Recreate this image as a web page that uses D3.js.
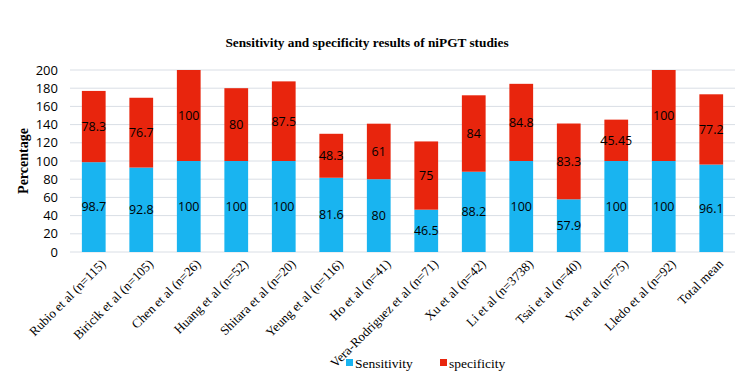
<!DOCTYPE html>
<html>
<head>
<meta charset="utf-8">
<script src="https://cdn.jsdelivr.net/npm/d3@7"></script>
<style>
  body { margin: 0; background: #fff; }
  svg { display: block; }
</style>
</head>
<body>
<svg id="chart"></svg>
<script>
// data
const studies = ["Rubio et al (n=115)", "Biricik et al (n=105)", "Chen et al (n=26)", "Huang et al (n=52)",
  "Shitara et al (n=20)", "Yeung et al (n=116)", "Ho et al (n=41)", "Vera-Rodriguez et al (n=71)",
  "Xu et al (n=42)", "Li et al (n=3738)", "Tsai et al (n=40)", "Yin et al (n=75)", "Lledo et al (n=92)", "Total mean"];
const sensitivity = [98.7, 92.8, 100, 100, 100, 81.6, 80, 46.5, 88.2, 100, 57.9, 100, 100, 96.1];
const specificity = [78.3, 76.7, 100, 80, 87.5, 48.3, 61, 75, 84, 84.8, 83.3, 45.45, 100, 77.2];
const yTicks = [0, 20, 40, 60, 80, 100, 120, 140, 160, 180, 200];
const seriesNames = ["Sensitivity", "specificity"];
const colors = ["#19b4f0", "#e8250d"];

const width = 753, height = 389;
const margin = { top: 70, right: 18, bottom: 137, left: 70 };
const innerW = width - margin.left - margin.right;
const innerH = height - margin.top - margin.bottom;

const svg = d3.select("#chart").attr("width", width).attr("height", height);

svg.append("text")
  .attr("x", 367).attr("y", 47)
  .attr("text-anchor", "middle")
  .style("font-family", "'Liberation Serif', serif")
  .style("font-weight", "bold").style("font-size", "13.3px")
  .text("Sensitivity and specificity results of niPGT studies");

const g = svg.append("g").attr("transform", `translate(${margin.left},${margin.top})`);

const x = d3.scaleBand().domain(studies).range([0, innerW]).paddingInner(0.5).paddingOuter(0.25);
const y = d3.scaleLinear().domain([0, 200]).range([innerH, 0]);

// gridlines
g.selectAll(".grid").data(yTicks).enter().append("line")
  .attr("x1", 0).attr("x2", innerW)
  .attr("y1", d => y(d)).attr("y2", d => y(d))
  .attr("stroke", "#d9dee5").attr("stroke-width", 1);

// y axis
const yaxis = g.append("g").call(d3.axisLeft(y).tickValues(yTicks).tickSize(0).tickPadding(12));
yaxis.select(".domain").remove();
yaxis.selectAll("text")
  .style("font-family", "'Open Sans', sans-serif").style("font-size", "13px").attr("fill", "#000");

svg.append("text")
  .attr("transform", `translate(28,${margin.top + innerH / 2}) rotate(-90)`)
  .attr("text-anchor", "middle")
  .style("font-family", "'Liberation Serif', serif")
  .style("font-weight", "bold").style("font-size", "14px")
  .text("Percentage");

// stacked data
const rows = studies.map((s, i) => ({ study: s, Sensitivity: sensitivity[i], specificity: specificity[i] }));
const stack = d3.stack().keys(seriesNames)(rows);

const layers = g.selectAll(".layer").data(stack).enter().append("g")
  .attr("fill", (d, i) => colors[i]);

layers.selectAll("rect").data(d => d).enter().append("rect")
  .attr("x", d => x(d.data.study))
  .attr("y", d => y(d[1]))
  .attr("width", x.bandwidth())
  .attr("height", d => y(d[0]) - y(d[1]));

layers.selectAll("text").data(d => d).enter().append("text")
  .attr("x", d => x(d.data.study) + x.bandwidth() / 2)
  .attr("y", d => (y(d[0]) + y(d[1])) / 2)
  .attr("dy", "0.35em")
  .attr("text-anchor", "middle")
  .attr("fill", "#000")
  .style("font-family", "'Open Sans', sans-serif").style("font-size", "12.5px")
  .text(d => +(d[1] - d[0]).toFixed(2));

// x axis
const xaxis = g.append("g").attr("transform", `translate(0,${innerH})`)
  .call(d3.axisBottom(x).tickSize(0).tickPadding(6));
xaxis.select(".domain").remove();
xaxis.selectAll("text")
  .style("font-family", "'Liberation Serif', serif").style("font-size", "13px").attr("fill", "#000")
  .attr("text-anchor", "end")
  .attr("transform", "translate(2,2) rotate(-45)");

// legend
const legend = svg.append("g").attr("transform", "translate(346,363)");
const items = [{ name: "Sensitivity", x: 0 }, { name: "specificity", x: 94 }];
items.forEach((it, i) => {
  legend.append("rect").attr("x", it.x).attr("y", -4).attr("width", 7).attr("height", 7).attr("fill", colors[i]);
  legend.append("text").attr("x", it.x + 9).attr("y", 0).attr("dy", "0.35em")
    .style("font-family", "'Liberation Serif', serif").style("font-size", "13.5px")
    .text(it.name);
});
</script>
</body>
</html>
